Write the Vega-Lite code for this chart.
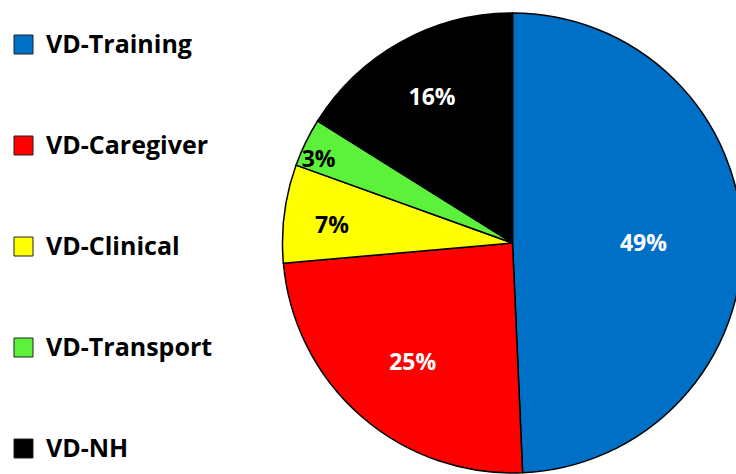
{
  "$schema": "https://vega.github.io/schema/vega-lite/v6.json",
  "width": 447,
  "height": 460,
  "autosize": {"type": "none"},
  "padding": {"left": 289, "top": 13, "right": 0, "bottom": 1},
  "background": "white",
  "view": {"stroke": null},
  "data": {
    "values": [
      {"category": "VD-Training", "pct": 49.3, "rank": 1, "label": "49%"},
      {"category": "VD-Caregiver", "pct": 24.3, "rank": 2, "label": "25%"},
      {"category": "VD-Clinical", "pct": 6.9, "rank": 3, "label": "7%"},
      {"category": "VD-Transport", "pct": 3.4, "rank": 4, "label": "3%"},
      {"category": "VD-NH", "pct": 16.1, "rank": 5, "label": "16%"}
    ]
  },
  "encoding": {
    "theta": {"field": "pct", "type": "quantitative", "stack": true},
    "order": {"field": "rank", "type": "quantitative"}
  },
  "layer": [
    {
      "mark": {"type": "arc", "outerRadius": 230, "stroke": "black", "strokeWidth": 1.5},
      "encoding": {
        "color": {
          "field": "category",
          "type": "nominal",
          "sort": ["VD-Training", "VD-Caregiver", "VD-Clinical", "VD-Transport", "VD-NH"],
          "scale": {
            "domain": ["VD-Training", "VD-Caregiver", "VD-Clinical", "VD-Transport", "VD-NH"],
            "range": ["#0070C6", "#FF0000", "#FFFF00", "#5CF23C", "#000000"]
          },
          "legend": {
            "title": null,
            "orient": "none",
            "legendX": -278,
            "legendY": 19,
            "padding": 0,
            "symbolType": "square",
            "symbolSize": 361,
            "symbolStrokeColor": "#222222",
            "symbolStrokeWidth": 1,
            "labelFont": "Open Sans",
            "labelFontSize": 25,
            "labelFontWeight": "bold",
            "labelColor": "black",
            "labelOffset": 10,
            "labelLimit": 300,
            "rowPadding": 75,
            "symbolOpacity": 1
          }
        }
      }
    },
    {
      "mark": {"type": "text", "radius": 131, "dy": 4, "font": "Open Sans", "fontSize": 23, "fontWeight": "bold", "color": "white", "align": "center", "baseline": "middle"},
      "encoding": {"text": {"condition": {"test": "datum.category == 'VD-Training'", "field": "label"}, "value": ""}}
    },
    {
      "mark": {"type": "text", "radius": 156, "dx": 3, "dy": 3, "font": "Open Sans", "fontSize": 23, "fontWeight": "bold", "color": "white", "align": "center", "baseline": "middle"},
      "encoding": {"text": {"condition": {"test": "datum.category == 'VD-Caregiver'", "field": "label"}, "value": ""}}
    },
    {
      "mark": {"type": "text", "radius": 166, "font": "Open Sans", "fontSize": 23, "fontWeight": "bold", "color": "white", "align": "center", "baseline": "middle"},
      "encoding": {"text": {"condition": {"test": "datum.category == 'VD-NH'", "field": "label"}, "value": ""}}
    },
    {
      "mark": {"type": "text", "radius": 182, "dy": 6, "font": "Open Sans", "fontSize": 23, "fontWeight": "bold", "color": "black", "align": "center", "baseline": "middle"},
      "encoding": {"text": {"condition": {"test": "datum.category == 'VD-Clinical'", "field": "label"}, "value": ""}}
    },
    {
      "mark": {"type": "text", "radius": 210, "dx": -5, "dy": 9, "font": "Open Sans", "fontSize": 23, "fontWeight": "bold", "color": "black", "align": "center", "baseline": "middle"},
      "encoding": {"text": {"condition": {"test": "datum.category == 'VD-Transport'", "field": "label"}, "value": ""}}
    }
  ]
}
